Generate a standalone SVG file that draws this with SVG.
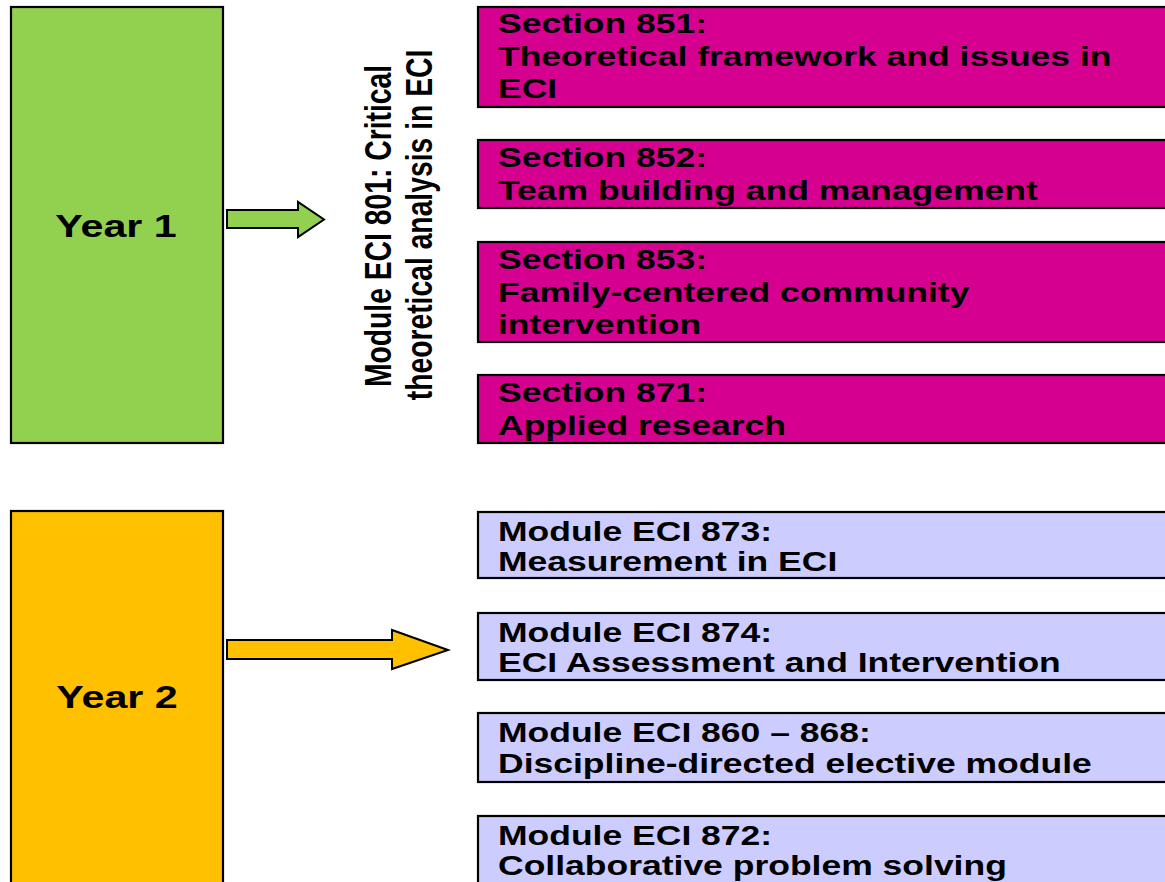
<svg xmlns="http://www.w3.org/2000/svg" width="1165" height="882" viewBox="0 0 1165 882">
<style>
.box{stroke:#000;stroke-width:2.2}
.year{fill:#92D050}
.year2{fill:#FFC000}
.sec{fill:#D5008F}
.mod{fill:#CCCCFF}
.t{font-family:"Liberation Sans",Arial,sans-serif;font-weight:bold;font-size:27px;fill:#000}
.ty{font-family:"Liberation Sans",Arial,sans-serif;font-weight:bold;font-size:31.5px;fill:#000;text-anchor:middle}
.tr{font-family:"Liberation Sans",Arial,sans-serif;font-weight:bold;font-size:28.3px;fill:#000;text-anchor:middle}
.arrow{stroke:#000;stroke-width:2}
</style>
<rect width="1165" height="882" fill="#fff"/>

<g id="year1">
<rect class="box year" x="11" y="7" width="212" height="436"/>
<text class="ty" transform="translate(116,237) scale(1.31,1)">Year 1</text>
</g>

<g id="year2">
<rect class="box year2" x="11" y="511" width="212" height="400"/>
<text class="ty" transform="translate(117,708) scale(1.31,1)">Year 2</text>
</g>

<g id="module801">
<text class="tr" transform="translate(391,226) scale(1.33,1) rotate(-90)">Module ECI 801: Critical</text>
<text class="tr" transform="translate(432,225) scale(1.33,1) rotate(-90)">theoretical analysis in ECI</text>
</g>

<g id="connectors">
<polygon class="arrow year" points="227,210 298,210 298,202 324,219.5 298,237 298,228 227,228"/>
<polygon class="arrow year2" points="227,640 392,640 392,630 448,650 392,669 392,659 227,659"/>
</g>

<g id="s851">
<rect class="box sec" x="478" y="7" width="700" height="100"/>
<text class="t" transform="translate(498,0) scale(1.315,1)"><tspan x="0" y="33">Section 851:</tspan><tspan x="0" y="66">Theoretical framework and issues in</tspan><tspan x="0" y="98">ECI</tspan></text>
</g>
<g id="s852">
<rect class="box sec" x="478" y="140" width="700" height="68"/>
<text class="t" transform="translate(498,0) scale(1.315,1)"><tspan x="0" y="167">Section 852:</tspan><tspan x="0" y="200">Team building and management</tspan></text>
</g>
<g id="s853">
<rect class="box sec" x="478" y="242" width="700" height="100"/>
<text class="t" transform="translate(498,0) scale(1.315,1)"><tspan x="0" y="269">Section 853:</tspan><tspan x="0" y="302">Family-centered community</tspan><tspan x="0" y="334">intervention</tspan></text>
</g>
<g id="s871">
<rect class="box sec" x="478" y="375" width="700" height="68"/>
<text class="t" transform="translate(498,0) scale(1.315,1)"><tspan x="0" y="402">Section 871:</tspan><tspan x="0" y="435">Applied research</tspan></text>
</g>

<g id="m873">
<rect class="box mod" x="478" y="512" width="700" height="66"/>
<text class="t" transform="translate(498,0) scale(1.315,1)"><tspan x="0" y="541">Module ECI 873:</tspan><tspan x="0" y="571">Measurement in ECI</tspan></text>
</g>
<g id="m874">
<rect class="box mod" x="478" y="613" width="700" height="67"/>
<text class="t" transform="translate(498,0) scale(1.315,1)"><tspan x="0" y="642">Module ECI 874:</tspan><tspan x="0" y="672">ECI Assessment and Intervention</tspan></text>
</g>
<g id="m860">
<rect class="box mod" x="478" y="713" width="700" height="69"/>
<text class="t" transform="translate(498,0) scale(1.315,1)"><tspan x="0" y="742">Module ECI 860 – 868:</tspan><tspan x="0" y="773">Discipline-directed elective module</tspan></text>
</g>
<g id="m872">
<rect class="box mod" x="478" y="816" width="700" height="100"/>
<text class="t" transform="translate(498,0) scale(1.315,1)"><tspan x="0" y="845">Module ECI 872:</tspan><tspan x="0" y="875">Collaborative problem solving</tspan></text>
</g>
</svg>
